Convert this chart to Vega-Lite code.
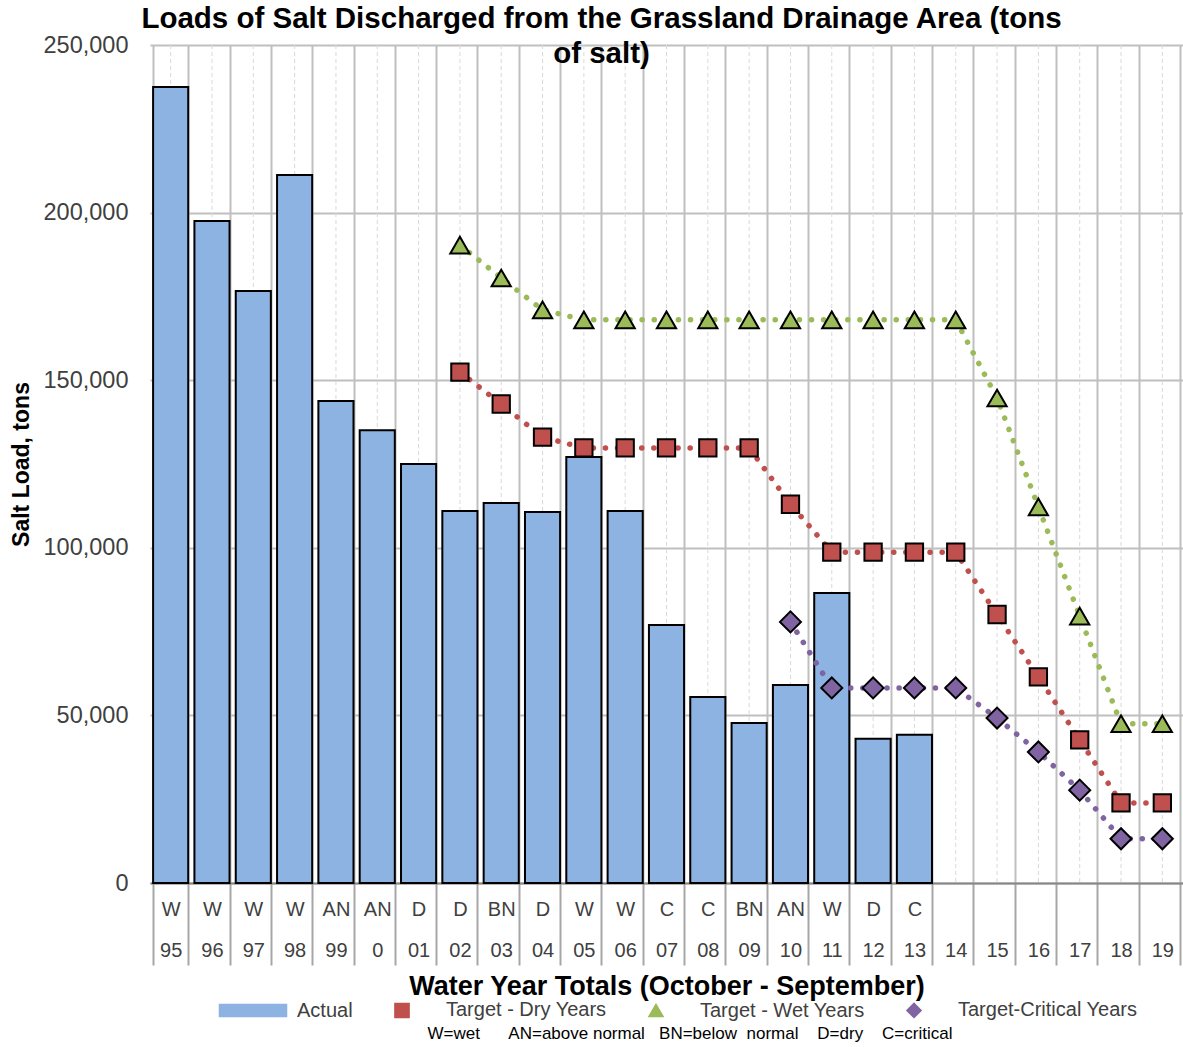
{
  "$schema": "https://vega.github.io/schema/vega-lite/v6.json",
  "width": 1033,
  "height": 838,
  "autosize": "none",
  "padding": {"left": 150, "top": 45, "right": 0, "bottom": 164},
  "background": "white",
  "title": {
    "text": ["Loads of Salt Discharged from the Grassland Drainage Area (tons", "of salt)"],
    "font": "Liberation Sans", "fontSize": 29.5, "fontWeight": "bold", "color": "black",
    "anchor": "middle", "frame": "group", "dx": -65, "offset": -36, "lineHeight": 35
  },
  "config": {
    "view": {"stroke": null},
    "axis": {"labelFont": "Liberation Sans", "titleFont": "Liberation Sans"},
    "legend": {
      "orient": "none", "legendX": 93, "legendY": 955, "direction": "horizontal",
      "titleOrient": "bottom", "titleAnchor": "middle", "titleFont": "Liberation Sans", "titleFontSize": 17,
      "titleFontWeight": "normal", "titleColor": "black", "titlePadding": 5, "titleLimit": 900,
      "labelFont": "Liberation Sans", "labelFontSize": 20, "labelColor": "#404040", "labelLimit": 400,
      "symbolSize": 200, "symbolStrokeWidth": 1.5,
      "labelOffset": 34, "columnPadding": 38, "padding": 0
    }
  },
  "data": {"values": [
    {"cat": "W|95", "series": "Actual", "value": 237500},
    {"cat": "W|96", "series": "Actual", "value": 197500},
    {"cat": "W|97", "series": "Actual", "value": 176600},
    {"cat": "W|98", "series": "Actual", "value": 211200},
    {"cat": "AN|99", "series": "Actual", "value": 143800},
    {"cat": "AN|0", "series": "Actual", "value": 135100},
    {"cat": "D|01", "series": "Actual", "value": 125000},
    {"cat": "D|02", "series": "Actual", "value": 111000},
    {"cat": "BN|03", "series": "Actual", "value": 113400},
    {"cat": "D|04", "series": "Actual", "value": 110700},
    {"cat": "W|05", "series": "Actual", "value": 127100},
    {"cat": "W|06", "series": "Actual", "value": 111000},
    {"cat": "C|07", "series": "Actual", "value": 77000},
    {"cat": "C|08", "series": "Actual", "value": 55500},
    {"cat": "BN|09", "series": "Actual", "value": 47700},
    {"cat": "AN|10", "series": "Actual", "value": 59100},
    {"cat": "W|11", "series": "Actual", "value": 86500},
    {"cat": "D|12", "series": "Actual", "value": 43000},
    {"cat": "C|13", "series": "Actual", "value": 44200},
    {"cat": "D|02", "series": "Target - Dry Years", "value": 152400},
    {"cat": "BN|03", "series": "Target - Dry Years", "value": 142900},
    {"cat": "D|04", "series": "Target - Dry Years", "value": 133000},
    {"cat": "W|05", "series": "Target - Dry Years", "value": 129800},
    {"cat": "W|06", "series": "Target - Dry Years", "value": 129800},
    {"cat": "C|07", "series": "Target - Dry Years", "value": 129800},
    {"cat": "C|08", "series": "Target - Dry Years", "value": 129800},
    {"cat": "BN|09", "series": "Target - Dry Years", "value": 129800},
    {"cat": "AN|10", "series": "Target - Dry Years", "value": 113000},
    {"cat": "W|11", "series": "Target - Dry Years", "value": 98700},
    {"cat": "D|12", "series": "Target - Dry Years", "value": 98700},
    {"cat": "C|13", "series": "Target - Dry Years", "value": 98700},
    {"cat": "|14", "series": "Target - Dry Years", "value": 98700},
    {"cat": "|15", "series": "Target - Dry Years", "value": 80100},
    {"cat": "|16", "series": "Target - Dry Years", "value": 61500},
    {"cat": "|17", "series": "Target - Dry Years", "value": 42700},
    {"cat": "|18", "series": "Target - Dry Years", "value": 23900},
    {"cat": "|19", "series": "Target - Dry Years", "value": 23900},
    {"cat": "D|02", "series": "Target - Wet Years", "value": 190300},
    {"cat": "BN|03", "series": "Target - Wet Years", "value": 180500},
    {"cat": "D|04", "series": "Target - Wet Years", "value": 171000},
    {"cat": "W|05", "series": "Target - Wet Years", "value": 168000},
    {"cat": "W|06", "series": "Target - Wet Years", "value": 168000},
    {"cat": "C|07", "series": "Target - Wet Years", "value": 168000},
    {"cat": "C|08", "series": "Target - Wet Years", "value": 168000},
    {"cat": "BN|09", "series": "Target - Wet Years", "value": 168000},
    {"cat": "AN|10", "series": "Target - Wet Years", "value": 168000},
    {"cat": "W|11", "series": "Target - Wet Years", "value": 168000},
    {"cat": "D|12", "series": "Target - Wet Years", "value": 168000},
    {"cat": "C|13", "series": "Target - Wet Years", "value": 168000},
    {"cat": "|14", "series": "Target - Wet Years", "value": 168000},
    {"cat": "|15", "series": "Target - Wet Years", "value": 144700},
    {"cat": "|16", "series": "Target - Wet Years", "value": 112200},
    {"cat": "|17", "series": "Target - Wet Years", "value": 79600},
    {"cat": "|18", "series": "Target - Wet Years", "value": 47500},
    {"cat": "|19", "series": "Target - Wet Years", "value": 47500},
    {"cat": "AN|10", "series": "Target-Critical Years", "value": 77900},
    {"cat": "W|11", "series": "Target-Critical Years", "value": 58200},
    {"cat": "D|12", "series": "Target-Critical Years", "value": 58200},
    {"cat": "C|13", "series": "Target-Critical Years", "value": 58200},
    {"cat": "|14", "series": "Target-Critical Years", "value": 58200},
    {"cat": "|15", "series": "Target-Critical Years", "value": 49200},
    {"cat": "|16", "series": "Target-Critical Years", "value": 39100},
    {"cat": "|17", "series": "Target-Critical Years", "value": 27700},
    {"cat": "|18", "series": "Target-Critical Years", "value": 13200},
    {"cat": "|19", "series": "Target-Critical Years", "value": 13200}
  ]},
  "encoding": {
    "x": {
      "field": "cat", "type": "nominal",
      "scale": {
        "domain": ["W|95","W|96","W|97","W|98","AN|99","AN|0","D|01","D|02","BN|03","D|04","W|05","W|06","C|07","C|08","BN|09","AN|10","W|11","D|12","C|13","|14","|15","|16","|17","|18","|19"],
        "paddingInner": 0.15, "paddingOuter": 0.075
      },
      "axis": {
        "title": "Water Year Totals (October - September)",
        "titleFontSize": 27, "titleFontWeight": "bold", "titleColor": "black", "titlePadding": 7,
        "labelExpr": "split(datum.label, '|')",
        "labelAngle": 0, "labelFontSize": 20, "labelColor": "#404040", "labelLineHeight": 41,
        "labelPadding": -66, "labelBaseline": "top",
        "tickBand": "extent", "tickSize": 82, "tickColor": "#a6a6a6", "tickWidth": 2,
        "domainColor": "#868686", "domainWidth": 2,
        "grid": true, "gridColor": "#bfbfbf", "gridWidth": 2
      }
    }
  },
  "layer": [
    {
      "transform": [{"aggregate": [{"op": "count", "as": "n"}], "groupby": ["cat"]}],
      "mark": {"type": "rule", "color": "#d9d9d9", "strokeWidth": 1, "strokeDash": [4, 3]},
      "encoding": {}
    },
    {
      "transform": [{"filter": "datum.series === 'Actual'"}],
      "mark": {"type": "bar", "stroke": "black", "strokeWidth": 2},
      "encoding": {
        "y": {"field": "value", "type": "quantitative", "title": "Salt Load, tons",
          "scale": {"domain": [0, 250000], "nice": false},
          "axis": {"values": [0, 50000, 100000, 150000, 200000, 250000], "labelExpr": "format(datum.value, ',')",
            "labelFontSize": 23.5, "labelColor": "#404040", "labelPadding": 22,
            "titleFontSize": 23, "titleFontWeight": "bold", "titleColor": "black", "titlePadding": 10,
            "ticks": false, "domain": false, "grid": true, "gridColor": "#bfbfbf", "gridWidth": 2}},
        "color": {"field": "series", "type": "nominal",
          "scale": {"domain": ["Actual", "Target - Dry Years", "Target - Wet Years", "Target-Critical Years"],
                    "range": ["#8db3e2", "#c0504d", "#9bbb59", "#8064a2"]},
          "legend": {"title": "W=wet\u00a0\u00a0\u00a0\u00a0\u00a0\u00a0AN=above normal\u00a0\u00a0\u00a0BN=below\u00a0\u00a0normal\u00a0\u00a0\u00a0\u00a0D=dry\u00a0\u00a0\u00a0\u00a0C=critical\u00a0\u00a0\u00a0\u00a0\u00a0\u00a0\u00a0\u00a0\u00a0",
            "symbolStrokeColor": "black", "symbolStrokeWidth": 1.5}
        }
      }
    },
    {
      "transform": [{"filter": "datum.series === 'Target - Dry Years'"}],
      "mark": {"type": "line", "strokeWidth": 5.5, "strokeDash": [0.1, 12], "strokeCap": "round"},
      "encoding": {"y": {"field": "value", "type": "quantitative", "title": "Salt Load, tons"}, "color": {"field": "series", "type": "nominal", "legend": null}}
    },
    {
      "transform": [{"filter": "datum.series === 'Target - Wet Years'"}],
      "mark": {"type": "line", "strokeWidth": 5.5, "strokeDash": [0.1, 12], "strokeCap": "round"},
      "encoding": {"y": {"field": "value", "type": "quantitative", "title": "Salt Load, tons"}, "color": {"field": "series", "type": "nominal", "legend": null}}
    },
    {
      "transform": [{"filter": "datum.series === 'Target-Critical Years'"}],
      "mark": {"type": "line", "strokeWidth": 5.5, "strokeDash": [0.1, 12], "strokeCap": "round"},
      "encoding": {"y": {"field": "value", "type": "quantitative", "title": "Salt Load, tons"}, "color": {"field": "series", "type": "nominal", "legend": null}}
    },
    {
      "transform": [{"filter": "datum.series !== 'Actual'"}],
      "mark": {"type": "point", "filled": true, "stroke": "black", "strokeWidth": 2, "opacity": 1},
      "encoding": {
        "y": {"field": "value", "type": "quantitative", "title": "Salt Load, tons"},
        "color": {"field": "series", "type": "nominal", "legend": null},
        "shape": {"field": "series", "type": "nominal",
          "scale": {"domain": ["Actual", "Target - Dry Years", "Target - Wet Years", "Target-Critical Years"],
                    "range": ["M-4.74,-0.85H4.74V0.85H-4.74Z", "square", "triangle-up", "diamond"]},
          "legend": {"title": "W=wet\u00a0\u00a0\u00a0\u00a0\u00a0\u00a0AN=above normal\u00a0\u00a0\u00a0BN=below\u00a0\u00a0normal\u00a0\u00a0\u00a0\u00a0D=dry\u00a0\u00a0\u00a0\u00a0C=critical\u00a0\u00a0\u00a0\u00a0\u00a0\u00a0\u00a0\u00a0\u00a0",
            "symbolStrokeColor": "black", "symbolStrokeWidth": 1.5}},
        "size": {"field": "series", "type": "nominal", "legend": null,
          "scale": {"domain": ["Target - Dry Years", "Target - Wet Years", "Target-Critical Years"], "range": [300, 440, 460]}}
      }
    }
  ]
}
